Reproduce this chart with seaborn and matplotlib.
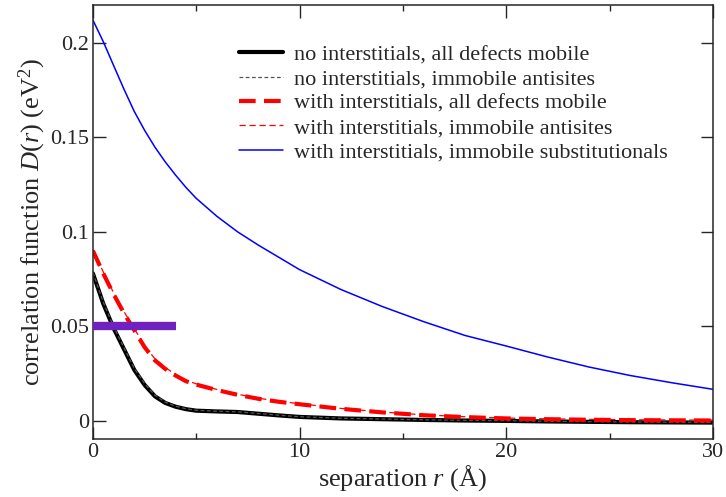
import matplotlib
matplotlib.use("Agg")
import matplotlib.pyplot as plt
from matplotlib.ticker import MultipleLocator
import seaborn as sns
import pandas as pd

# separation r (Angstrom)
r = [0, 0.5, 1, 1.5, 2, 2.5, 3, 3.5, 4, 4.5, 5, 6, 7, 8, 9, 10,
     12, 14, 16, 18, 20, 22, 24, 26, 28, 30]

# correlation function D(r) (eV^2)
no_int_mobile = [0.078, 0.062, 0.049, 0.038, 0.027, 0.019, 0.013, 0.0095, 0.0075, 0.0062,
                 0.0054, 0.0050, 0.0047, 0.0038, 0.0029, 0.0021,
                 0.0013, 0.0009, 0.0005, 0.0002, 0.0, -0.0003, -0.0005, -0.0007, -0.0008, -0.0009]
no_int_immobile = [0.0785, 0.0628, 0.0498, 0.0388, 0.0278, 0.0197, 0.0136, 0.0099, 0.0078, 0.0064,
                   0.0056, 0.0051, 0.0048, 0.0039, 0.0030, 0.0022,
                   0.0014, 0.0010, 0.0006, 0.0003, 0.0001, -0.0002, -0.0004, -0.0006, -0.0007, -0.0008]
int_mobile = [0.090, 0.078, 0.067, 0.057, 0.048, 0.039, 0.032, 0.0275, 0.024, 0.021,
              0.0192, 0.0163, 0.0138, 0.0117, 0.0101, 0.0088,
              0.0064, 0.0045, 0.0030, 0.0020, 0.0013, 0.0009, 0.0006, 0.0004, 0.0003, 0.0002]
int_immobile = [0.0905, 0.0788, 0.0678, 0.0578, 0.0488, 0.0398, 0.0328, 0.0282, 0.0246, 0.0215,
                0.0196, 0.0166, 0.0141, 0.0120, 0.0104, 0.0091,
                0.0066, 0.0047, 0.0032, 0.0022, 0.0015, 0.0011, 0.0008, 0.0006, 0.0005, 0.0004]
int_immobile_subst = [0.212, 0.2006, 0.188, 0.1755, 0.1637, 0.1537, 0.1448, 0.1370, 0.1300, 0.1235,
                      0.1177, 0.1082, 0.1000, 0.0930, 0.0865, 0.0800,
                      0.0695, 0.0605, 0.0525, 0.0452, 0.0396, 0.0338, 0.0285, 0.0240, 0.0202, 0.0167]

# marker bar
bar_r = [0, 4]
bar_d = [0.05, 0.05]

labels = ["no interstitials, all defects mobile",
          "no interstitials, immobile antisites",
          "with interstitials, all defects mobile",
          "with interstitials, immobile antisites",
          "with interstitials, immobile substitutionals"]

sns.set_style("ticks")
plt.rcParams["font.family"] = ["Liberation Serif", "DejaVu Serif"]
plt.rcParams["mathtext.fontset"] = "custom"
plt.rcParams["mathtext.rm"] = "Liberation Serif"
plt.rcParams["mathtext.it"] = "Liberation Serif:italic"

fig = plt.figure(figsize=(7.26, 4.97), dpi=100)
ax = fig.add_axes([0.128, 0.117, 0.854, 0.873])

df = pd.DataFrame({"r": r, "a": no_int_mobile, "b": no_int_immobile,
                   "c": int_mobile, "d": int_immobile, "e": int_immobile_subst})

sns.lineplot(data=df, x="r", y="a", ax=ax, color="black", lw=3, label=labels[0])
sns.lineplot(data=df, x="r", y="b", ax=ax, color="#555555", lw=0.9,
             linestyle=(0, (3, 2)), label=labels[1])
sns.lineplot(data=df, x="r", y="c", ax=ax, color="#ff0000", lw=3,
             linestyle=(0, (4, 2)), label=labels[2])
sns.lineplot(data=df, x="r", y="d", ax=ax, color="#ff0000", lw=0.9,
             linestyle=(0, (5, 3)), label=labels[3])
sns.lineplot(data=df, x="r", y="e", ax=ax, color="#0000ff", lw=1.1, label=labels[4])

ax.plot(bar_r, bar_d, color="#6f22c0", lw=6, solid_capstyle="butt", zorder=5)

ax.set_xlim(0, 30)
ax.set_ylim(-0.0095, 0.22)
ax.xaxis.set_major_locator(MultipleLocator(10))
ax.xaxis.set_minor_locator(MultipleLocator(5))
ax.set_yticks([0, 0.05, 0.1, 0.15, 0.2])
ax.set_yticklabels(["0", "0.05", "0.1", "0.15", "0.2"])
ax.tick_params(which="both", direction="in", top=True, right=True, labelsize=16, width=1, pad=3)
ax.tick_params(which="major", length=9)
ax.tick_params(which="minor", length=4.5)
for s in ax.spines.values():
    s.set_linewidth(1.1)

ax.set_xlabel("separation $r$ (Å)", fontsize=19, labelpad=1)
ax.set_ylabel("correlation function $D(r)$ (eV$^2$)", fontsize=19, labelpad=1)

ax.legend(loc="upper left", bbox_to_anchor=(0.203, 0.955), frameon=False, fontsize=16,
          handlelength=2.0, handletextpad=0.5, labelspacing=0.17)

fig.savefig("out.png", dpi=100)
